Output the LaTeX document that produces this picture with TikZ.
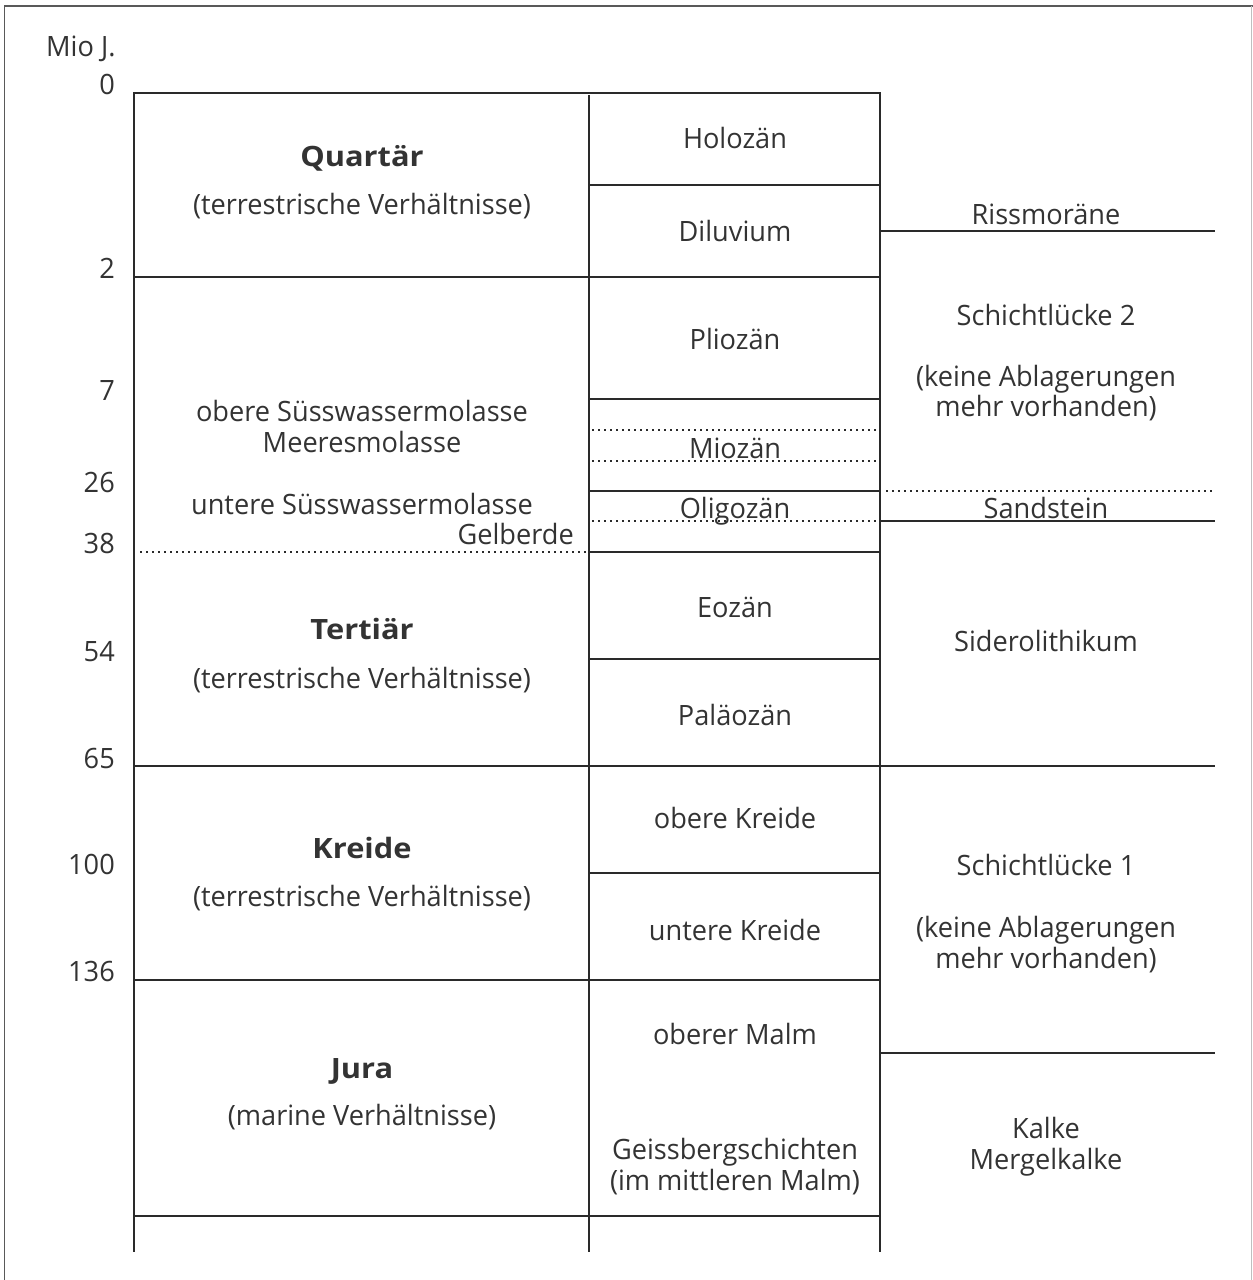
\documentclass[tikz,border=0pt]{standalone}
\usepackage{fontspec}
\setmainfont{Open Sans}[FakeStretch=0.97, BoldFeatures={FakeStretch=1.1}]
\definecolor{ink}{HTML}{2A2A2A}
\definecolor{txt}{HTML}{333333}
\begin{document}
\begin{tikzpicture}[x=1pt,y=-1pt,
  ln/.style={line width=1.9pt, draw=ink},
  dt/.style={line width=2pt, draw=ink, dash pattern=on 2pt off 4pt},
  frm/.style={line width=1.6pt, draw=black!65},
  tx/.style={font=\fontsize{28}{33}\selectfont, text=txt, inner sep=0pt, anchor=base},
  bx/.style={tx, font=\fontsize{28}{33}\selectfont\bfseries},
  num/.style={tx, anchor=base east}]
\useasboundingbox (0,0) rectangle (1253,1280);
% frame
\draw[frm] (4.5,1280) -- (4.5,6) -- (1253,6);
\draw[line width=1pt, draw=black!25] (1251.5,6) -- (1251.5,1280);
% columns
\draw[ln] (134,93) -- (134,1252);
\draw[ln] (589,95) -- (589,1252);
\draw[ln] (880,93) -- (880,1252);
% horizontal lines
\draw[ln] (133,93) -- (881,93);
\draw[ln] (589,185) -- (880,185);
\draw[ln] (880,231) -- (1215,231);
\draw[ln] (133,277) -- (880,277);
\draw[ln] (589,399) -- (880,399);
\draw[dt] (592,430) -- (880,430);
\draw[dt] (592,461) -- (880,461);
\draw[ln] (589,491) -- (880,491);
\draw[dt] (886,491) -- (1213,491);
\draw[dt] (592,521) -- (880,521);
\draw[ln] (880,521) -- (1215,521);
\draw[dt] (140,552) -- (589,552);
\draw[ln] (589,552) -- (880,552);
\draw[ln] (589,659) -- (880,659);
\draw[ln] (133,766) -- (1215,766);
\draw[ln] (589,873) -- (880,873);
\draw[ln] (133,980) -- (880,980);
\draw[ln] (880,1053) -- (1215,1053);
\draw[ln] (133,1216) -- (880,1216);
% axis
\node[tx, anchor=base west] (mio) at (46,56) {Mio J.};
\node[num] (n0) at (115,94) {0};
\node[num] (n2) at (115,278) {2};
\node[num] (n7) at (115,400) {7};
\node[num] (n26) at (115,492) {26};
\node[num] (n38) at (115,553) {38};
\node[num] (n54) at (115,661) {54};
\node[num] (n65) at (115,768) {65};
\node[num] (n100) at (115,874) {100};
\node[num] (n136) at (115,981) {136};
% left column
\node[bx] (quart) at (362,166) {Quartär};
\node[tx] (quartb) at (362,214) {(terrestrische Verhältnisse)};
\node[tx] (osm) at (362,421) {obere Süsswassermolasse};
\node[tx] (mm) at (362,452) {Meeresmolasse};
\node[tx] (usm) at (362,514) {untere Süsswassermolasse};
\node[tx, anchor=base east] (gelb) at (574,544) {Gelberde};
\node[bx] (tert) at (362,639) {Tertiär};
\node[tx] (tertb) at (362,688) {(terrestrische Verhältnisse)};
\node[bx] (kreide) at (362,858) {Kreide};
\node[tx] (kreideb) at (362,906) {(terrestrische Verhältnisse)};
\node[bx] (jura) at (362,1078) {Jura};
\node[tx] (jurab) at (362,1125) {(marine Verhältnisse)};
% middle column
\node[tx] (holo) at (735,148) {Holozän};
\node[tx] (dilu) at (735,241) {Diluvium};
\node[tx] (plio) at (735,349) {Pliozän};
\node[tx] (mio2) at (735,458) {Miozän};
\node[tx] (oligo) at (735,518) {Oligozän};
\node[tx] (eoz) at (735,617) {Eozän};
\node[tx] (paleo) at (735,725) {Paläozän};
\node[tx] (okr) at (735,828) {obere Kreide};
\node[tx] (ukr) at (735,940) {untere Kreide};
\node[tx] (omalm) at (735,1044) {oberer Malm};
\node[tx] (geiss) at (735,1159) {Geissbergschichten};
\node[tx] (mmalm) at (735,1190) {(im mittleren Malm)};
% right column
\node[tx] (riss) at (1046,224) {Rissmoräne};
\node[tx] (sl2) at (1046,325) {Schichtlücke 2};
\node[tx] (ka2) at (1046,386) {(keine Ablagerungen};
\node[tx] (mv2) at (1046,416) {mehr vorhanden)};
\node[tx] (sand) at (1046,518) {Sandstein};
\node[tx] (sider) at (1046,651) {Siderolithikum};
\node[tx] (sl1) at (1046,875) {Schichtlücke 1};
\node[tx] (ka1) at (1046,937) {(keine Ablagerungen};
\node[tx] (mv1) at (1046,968) {mehr vorhanden)};
\node[tx] (kalke) at (1046,1138) {Kalke};
\node[tx] (merg) at (1046,1169) {Mergelkalke};
\end{tikzpicture}
\end{document}
